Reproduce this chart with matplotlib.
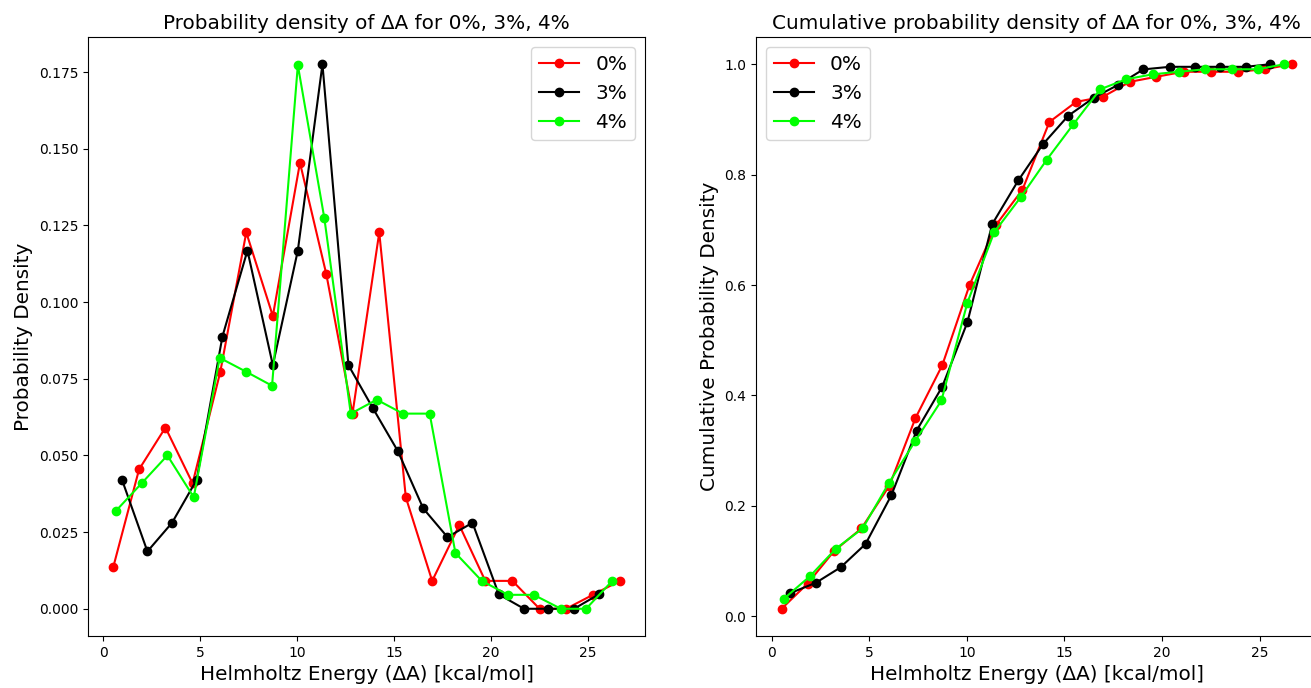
import numpy as np
import matplotlib
matplotlib.use("Agg")
import matplotlib.pyplot as plt

# Bin centres of ΔA (kcal/mol) for each concentration
x_0pct = [0.51, 1.84, 3.20, 4.60, 6.03, 7.37, 8.74, 10.14, 11.50, 12.85,
          14.23, 15.60, 16.96, 18.36, 19.70, 21.10, 22.50, 23.87, 25.25, 26.64]
x_3pct = [0.96, 2.27, 3.54, 4.81, 6.14, 7.43, 8.74, 10.03, 11.30, 12.64,
          13.90, 15.19, 16.50, 17.75, 19.04, 20.40, 21.70, 22.95, 24.28, 25.55]
x_4pct = [0.63, 1.97, 3.30, 4.66, 6.00, 7.37, 8.70, 10.03, 11.40, 12.76,
          14.10, 15.45, 16.83, 18.16, 19.52, 20.87, 22.20, 23.60, 24.90, 26.25]

# Number of samples falling in each bin
counts_0pct = [3, 10, 13, 9, 17, 27, 21, 32, 24, 14, 27, 8, 2, 6, 2, 2, 0, 0, 1, 2]
counts_3pct = [9, 4, 6, 9, 19, 25, 17, 25, 38, 17, 14, 11, 7, 5, 6, 1, 0, 0, 0, 1]
counts_4pct = [7, 9, 11, 8, 18, 17, 16, 39, 28, 14, 15, 14, 14, 4, 2, 1, 1, 0, 0, 2]

labels = ["0%", "3%", "4%"]
colors = ["red", "black", "#00ff00"]

xs = [x_0pct, x_3pct, x_4pct]
counts = [counts_0pct, counts_3pct, counts_4pct]
densities = [np.array(c) / np.sum(c) for c in counts]
cumulatives = [np.cumsum(d) for d in densities]

big = 14.4

fig = plt.figure(figsize=(13.11, 6.88), dpi=100)
ax1 = fig.add_axes([0.0671, 0.0756, 0.425, 0.8706])
ax2 = fig.add_axes([0.5767, 0.0756, 0.428, 0.8706])

for x, d, lab, c in zip(xs, densities, labels, colors):
    ax1.plot(x, d, marker="o", color=c, label=lab)
ax1.set_title("Probability density of ΔA for 0%, 3%, 4%", fontsize=big)
ax1.set_xlabel("Helmholtz Energy (ΔA) [kcal/mol]", fontsize=big)
ax1.set_ylabel("Probability Density", fontsize=big)
ax1.legend(fontsize=big, loc="upper right")

for x, cd, lab, c in zip(xs, cumulatives, labels, colors):
    ax2.plot(x, cd, marker="o", color=c, label=lab)
ax2.set_title("Cumulative probability density of ΔA for 0%, 3%, 4%", fontsize=big)
ax2.set_xlabel("Helmholtz Energy (ΔA) [kcal/mol]", fontsize=big)
ax2.set_ylabel("Cumulative Probability Density", fontsize=big)
ax2.legend(fontsize=big, loc="upper left")

fig.savefig("out.png", dpi=100)
